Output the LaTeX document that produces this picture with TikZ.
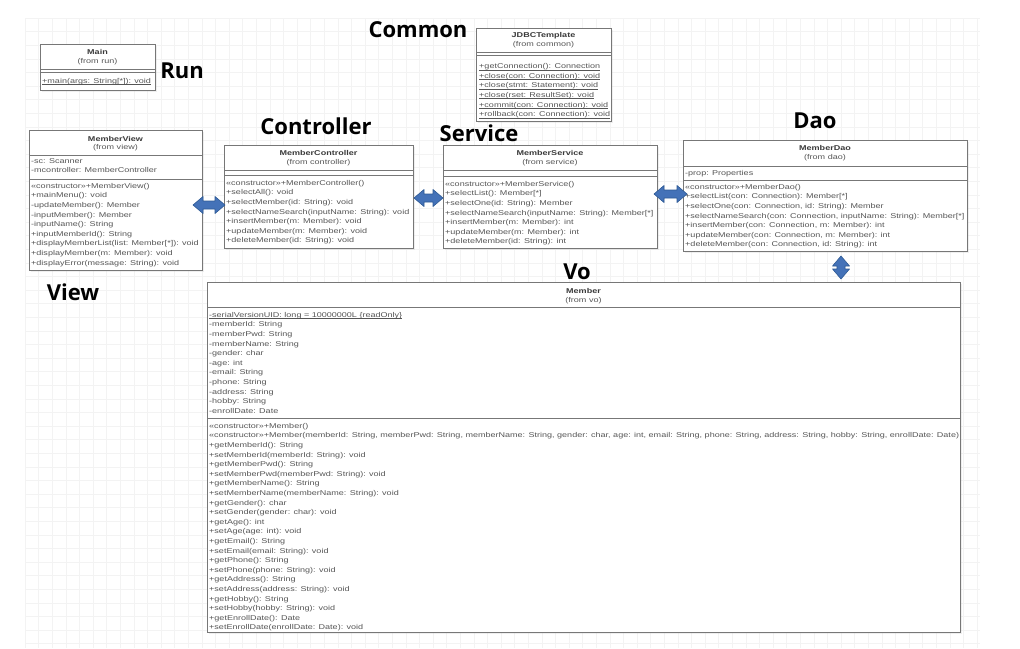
\documentclass[tikz,border=0pt]{standalone}
\usepackage{fontspec}
\usetikzlibrary{shadows}
\newfontfamily\umlfont[FakeStretch=1.29]{Liberation Sans}
\newfontfamily\layerfont{Open Sans}
\newsavebox\ulbox
\newcommand\ulmeth[1]{\sbox\ulbox{#1}\rlap{\rule[-1.3pt]{\wd\ulbox}{0.45pt}}\usebox\ulbox}
\definecolor{boxgray}{HTML}{777777}
\definecolor{txtgray}{HTML}{555555}
\definecolor{namegray}{HTML}{3A3A3A}
\definecolor{gridgray}{HTML}{F3F3F3}
\definecolor{linkfill}{HTML}{4472B8}
\definecolor{linkedge}{HTML}{2E5A95}
\tikzset{
  classbox/.style={draw=boxgray, fill=white, line width=0.8pt, inner sep=0pt, anchor=north west,
    drop shadow={opacity=0.12, shadow xshift=1.2pt, shadow yshift=-1.2pt}},
  divider/.style={draw=boxgray, line width=0.8pt},
  gridline/.style={draw=gridgray, line width=0.5pt},
  members/.style={anchor=north west, inner sep=0pt, align=left, text=txtgray,
    font=\umlfont\fontsize{7}{9.6}\selectfont},
  classname/.style={inner sep=0pt, text=namegray, font=\umlfont\bfseries\fontsize{7}{9.6}\selectfont},
  fromlabel/.style={inner sep=0pt, text=txtgray, font=\umlfont\fontsize{7}{9.6}\selectfont},
  layer/.style={inner sep=0pt, font=\layerfont\bfseries\fontsize{22}{26}\selectfont},
  pics/dblarrow/.style={code={
    \filldraw[fill=linkfill, draw=linkedge, line width=0.6pt, line join=round]
      (-#1,0) -- (-#1+10,8.5) -- (-#1+10,4) -- (#1-10,4) -- (#1-10,8.5) -- (#1,0)
      -- (#1-10,-8.5) -- (#1-10,-4) -- (-#1+10,-4) -- (-#1+10,-8.5) -- cycle;
  }}
}
\begin{document}
\begin{tikzpicture}[x=1pt, y=-1pt]
\useasboundingbox[fill=white] (0,0) rectangle (1020,648);

% Background grid
\foreach \gx in {25,38.6,...,980} \draw[gridline] (\gx,18) -- (\gx,648);
\foreach \gy in {18,31.6,...,648} \draw[gridline] (25,\gy) -- (980,\gy);

% Layer titles
\node[layer] (t-common) at (418,30) {Common};
\node[layer] (t-run) at (182,71) {Run};
\node[layer] (t-controller) at (316,126) {Controller};
\node[layer] (t-service) at (479,133) {Service};
\node[layer] (t-dao) at (815,121) {Dao};
\node[layer] (t-view) at (73,292) {View};
\node[layer] (t-vo) at (577,272) {Vo};

% Main
\node[classbox, minimum width=115, minimum height=46] (main) at (40,44) {};
\draw[divider] (40,69) -- (155,69);
\draw[divider] (40,72) -- (155,72);
\node[classname] (main-name) at (97.5,52) {Main};
\node[fromlabel] (main-from) at (97.5,62) {(from run)};
\node[members] (main-ops) at (42,78) {\ulmeth{+main(args: String[*]): void}};

% JDBCTemplate
\node[classbox, minimum width=135, minimum height=93] (jdbc) at (476,28) {};
\draw[divider] (476,52) -- (611,52);
\draw[divider] (476,55) -- (611,55);
\node[classname] (jdbc-name) at (543.5,36) {JDBCTemplate};
\node[fromlabel] (jdbc-from) at (543.5,44.5) {(from common)};
\node[members] (jdbc-ops) at (479,63.5) {\ulmeth{+getConnection(): Connection}\\
  \ulmeth{+close(con: Connection): void}\\
  \ulmeth{+close(stmt: Statement): void}\\
  \ulmeth{+close(rset: ResultSet): void}\\
  \ulmeth{+commit(con: Connection): void}\\
  \ulmeth{+rollback(con: Connection): void}};

% MemberView
\node[classbox, minimum width=173, minimum height=140] (view) at (29,130) {};
\draw[divider] (29,155) -- (202,155);
\draw[divider] (29,179) -- (202,179);
\node[classname] (view-name) at (115.5,139) {MemberView};
\node[fromlabel] (view-from) at (115.5,148) {(from view)};
\node[members] (view-attrs) at (31,158) {-sc: Scanner\\-mcontroller: MemberController};
\node[members] (view-ops) at (31,183) {«constructor»+MemberView()\\
  +mainMenu(): void\\
  -updateMember(): Member\\
  -inputMember(): Member\\
  -inputName(): String\\
  +inputMemberId(): String\\
  +displayMemberList(list: Member[*]): void\\
  +displayMember(m: Member): void\\
  +displayError(message: String): void};

% MemberController
\node[classbox, minimum width=189, minimum height=103] (ctrl) at (224,145) {};
\draw[divider] (224,170) -- (413,170);
\draw[divider] (224,175) -- (413,175);
\node[classname] (ctrl-name) at (318.5,153) {MemberController};
\node[fromlabel] (ctrl-from) at (318.5,163) {(from controller)};
\node[members] (ctrl-ops) at (226,180) {«constructor»+MemberController()\\
  +selectAll(): void\\
  +selectMember(id: String): void\\
  +selectNameSearch(inputName: String): void\\
  +insertMember(m: Member): void\\
  +updateMember(m: Member): void\\
  +deleteMember(id: String): void};

% MemberService
\node[classbox, minimum width=214, minimum height=103] (svc) at (443,145) {};
\draw[divider] (443,170) -- (657,170);
\draw[divider] (443,176) -- (657,176);
\node[classname] (svc-name) at (550,153) {MemberService};
\node[fromlabel] (svc-from) at (550,163) {(from service)};
\node[members] (svc-ops) at (445,181) {«constructor»+MemberService()\\
  +selectList(): Member[*]\\
  +selectOne(id: String): Member\\
  +selectNameSearch(inputName: String): Member[*]\\
  +insertMember(m: Member): int\\
  +updateMember(m: Member): int\\
  +deleteMember(id: String): int};

% MemberDao
\node[classbox, minimum width=284, minimum height=111] (dao) at (683,140) {};
\draw[divider] (683,166) -- (967,166);
\draw[divider] (683,180) -- (967,180);
\node[classname] (dao-name) at (825,148) {MemberDao};
\node[fromlabel] (dao-from) at (825,158) {(from dao)};
\node[members] (dao-attrs) at (685,170) {-prop: Properties};
\node[members] (dao-ops) at (685,184) {«constructor»+MemberDao()\\
  +selectList(con: Connection): Member[*]\\
  +selectOne(con: Connection, id: String): Member\\
  +selectNameSearch(con: Connection, inputName: String): Member[*]\\
  +insertMember(con: Connection, m: Member): int\\
  +updateMember(con: Connection, m: Member): int\\
  +deleteMember(con: Connection, id: String): int};

% Member
\node[classbox, minimum width=753, minimum height=350] (member) at (207,282) {};
\draw[divider] (207,307) -- (960,307);
\draw[divider] (207,418) -- (960,418);
\node[classname] (member-name) at (583.5,291) {Member};
\node[fromlabel] (member-from) at (583.5,301) {(from vo)};
\node[members] (member-attrs) at (209,312) {\ulmeth{-serialVersionUID: long = 10000000L \{readOnly\}}\\
  -memberId: String\\
  -memberPwd: String\\
  -memberName: String\\
  -gender: char\\
  -age: int\\
  -email: String\\
  -phone: String\\
  -address: String\\
  -hobby: String\\
  -enrollDate: Date};
\node[members] (member-ops) at (209,423) {«constructor»+Member()\\
  «constructor»+Member(memberId: String, memberPwd: String, memberName: String, gender: char, age: int, email: String, phone: String, address: String, hobby: String, enrollDate: Date)\\
  +getMemberId(): String\\
  +setMemberId(memberId: String): void\\
  +getMemberPwd(): String\\
  +setMemberPwd(memberPwd: String): void\\
  +getMemberName(): String\\
  +setMemberName(memberName: String): void\\
  +getGender(): char\\
  +setGender(gender: char): void\\
  +getAge(): int\\
  +setAge(age: int): void\\
  +getEmail(): String\\
  +setEmail(email: String): void\\
  +getPhone(): String\\
  +setPhone(phone: String): void\\
  +getAddress(): String\\
  +setAddress(address: String): void\\
  +getHobby(): String\\
  +setHobby(hobby: String): void\\
  +getEnrollDate(): Date\\
  +setEnrollDate(enrollDate: Date): void};

% Links between layers
\pic (link-vc) at (209,205) {dblarrow=16};
\pic (link-cs) at (428.5,198) {dblarrow=14.5};
\pic (link-sd) at (670.5,194) {dblarrow=16.5};
\pic[rotate=90] (link-dm) at (841,267.5) {dblarrow=11.5};

\end{tikzpicture}
\end{document}
